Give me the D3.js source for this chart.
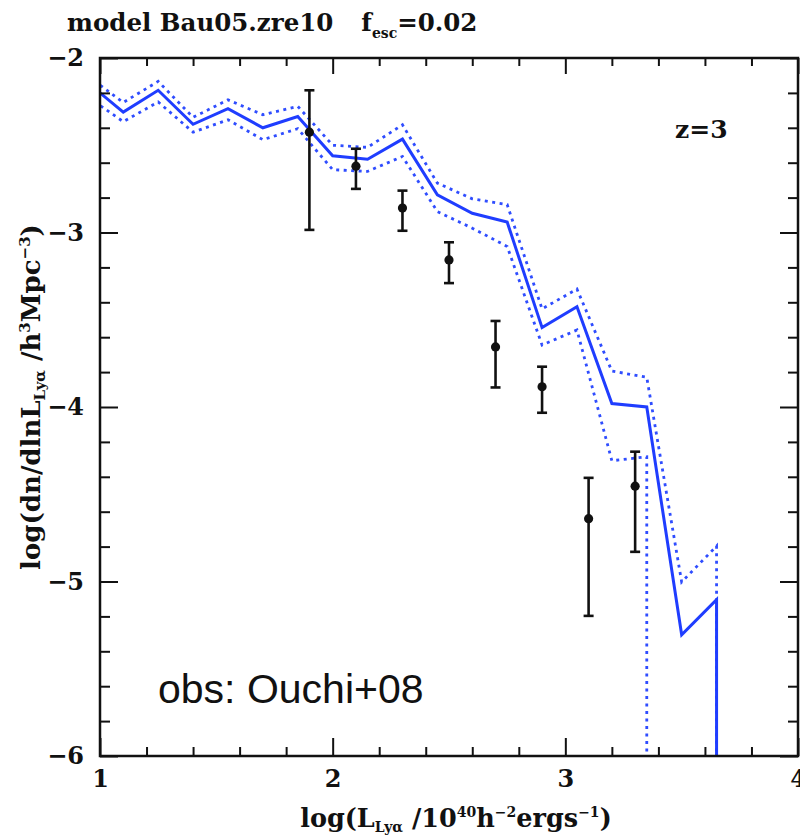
<!DOCTYPE html>
<html>
<head>
<meta charset="utf-8">
<script src="https://cdn.jsdelivr.net/npm/d3@7"></script>
<style>
  html, body { margin: 0; padding: 0; background: #fff; }
  svg { display: block; }
  .serif { font-family: "DejaVu Serif", serif; font-weight: bold; fill: #111; }
</style>
</head>
<body>
<svg id="chart" width="800" height="838"></svg>
<script>
// ---- data ----
const binX = [0.95, 1.10, 1.25, 1.40, 1.55, 1.70, 1.85, 2.00, 2.15, 2.30, 2.45, 2.60, 2.75, 2.90, 3.05, 3.20, 3.35, 3.50, 3.65, 3.80];
const modelMid   = [-2.145, -2.31, -2.185, -2.38, -2.29, -2.40, -2.335, -2.56, -2.58, -2.465, -2.784, -2.89, -2.94, -3.545, -3.425, -3.98, -4.00, -5.305, -5.104, -Infinity];
const modelUpper = [-2.105, -2.255, -2.134, -2.34, -2.24, -2.325, -2.277, -2.50, -2.512, -2.383, -2.717, -2.807, -2.84, -3.438, -3.324, -3.794, -3.83, -5.003, -4.797, -Infinity];
const modelLower = [-2.225, -2.365, -2.252, -2.425, -2.354, -2.468, -2.405, -2.64, -2.65, -2.564, -2.88, -2.975, -3.08, -3.645, -3.559, -4.308, -4.285, -Infinity, -Infinity, -Infinity];

const obsX    = [1.9, 2.1, 2.3, 2.5, 2.7, 2.9, 3.1, 3.3];
const obsY    = [-2.425, -2.62, -2.86, -3.157, -3.656, -3.884, -4.64, -4.454];
const obsHigh = [-2.185, -2.52, -2.76, -3.056, -3.507, -3.769, -4.406, -4.256];
const obsLow  = [-2.985, -2.75, -2.99, -3.29, -3.888, -4.033, -5.197, -4.83];

const xTicks = [1, 2, 3, 4];
const yTicks = [-2, -3, -4, -5, -6];
const xMinor = [1.2, 1.4, 1.6, 1.8, 2.2, 2.4, 2.6, 2.8, 3.2, 3.4, 3.6, 3.8];
const yMinor = [-2.2, -2.4, -2.6, -2.8, -3.2, -3.4, -3.6, -3.8, -4.2, -4.4, -4.6, -4.8, -5.2, -5.4, -5.6, -5.8];

// ---- layout ----
const L = 100, R = 798, T = 58, B = 756;
const svg = d3.select("#chart");
const x = d3.scaleLinear().domain([1, 4]).range([L, R]);
const y = d3.scaleLinear().domain([-6, -2]).range([B, T]).clamp(true);

svg.append("defs").append("clipPath").attr("id", "plotclip")
  .append("rect").attr("x", L).attr("y", T).attr("width", R - L).attr("height", B - T);

const plot = svg.append("g").attr("clip-path", "url(#plotclip)");

// build path points; -Infinity drops vertically from the previous finite point
function pathPoints(xs, ys) {
  const pts = [];
  for (let i = 0; i < xs.length; i++) {
    if (ys[i] === -Infinity) {
      if (pts.length) pts.push([pts[pts.length - 1][0], y(ys[i]) + 5]);
      break;
    }
    pts.push([x(xs[i]), y(ys[i])]);
  }
  return pts;
}
const line = d3.line();

const blue = "#1f3dff";
const dotBlue = "#2f4dff";
plot.append("path").attr("d", line(pathPoints(binX, modelUpper)))
  .attr("fill", "none").attr("stroke", dotBlue).attr("stroke-width", 2.8).attr("stroke-dasharray", "3,4.5");
plot.append("path").attr("d", line(pathPoints(binX, modelLower)))
  .attr("fill", "none").attr("stroke", dotBlue).attr("stroke-width", 2.8).attr("stroke-dasharray", "3,4.5");
plot.append("path").attr("d", line(pathPoints(binX, modelMid)))
  .attr("fill", "none").attr("stroke", blue).attr("stroke-width", 3);

// observations with error bars
const obs = obsX.map((v, i) => ({x: v, y: obsY[i], hi: obsHigh[i], lo: obsLow[i]}));
const eb = svg.append("g").attr("stroke", "#111").attr("stroke-width", 2.6);
eb.selectAll("line.v").data(obs).join("line").attr("class", "v")
  .attr("x1", d => x(d.x)).attr("x2", d => x(d.x)).attr("y1", d => y(d.hi)).attr("y2", d => y(d.lo));
eb.selectAll("line.ct").data(obs).join("line").attr("class", "ct")
  .attr("x1", d => x(d.x) - 5).attr("x2", d => x(d.x) + 5).attr("y1", d => y(d.hi)).attr("y2", d => y(d.hi));
eb.selectAll("line.cb").data(obs).join("line").attr("class", "cb")
  .attr("x1", d => x(d.x) - 5).attr("x2", d => x(d.x) + 5).attr("y1", d => y(d.lo)).attr("y2", d => y(d.lo));
svg.append("g").selectAll("circle").data(obs).join("circle")
  .attr("cx", d => x(d.x)).attr("cy", d => y(d.y)).attr("r", 4.6).attr("fill", "#111");

// ---- axes ----
function styleAxis(g) {
  g.select(".domain").remove();
  g.selectAll(".tick line").attr("stroke", "#111").attr("stroke-width", 2);
  g.selectAll("text").attr("class", "serif").attr("font-size", 24).attr("fill", "#111");
}
const fmt = d3.format("d");
svg.append("g").attr("transform", `translate(0,${B})`)
  .call(d3.axisBottom(x).tickValues(xTicks).tickSize(-18).tickPadding(14).tickFormat(fmt)).call(styleAxis);
svg.append("g").attr("transform", `translate(0,${B})`)
  .call(d3.axisBottom(x).tickValues(xMinor).tickSize(-9).tickFormat("")).call(styleAxis);
svg.append("g").attr("transform", `translate(0,${T})`)
  .call(d3.axisTop(x).tickValues(xTicks).tickSize(-16).tickFormat("")).call(styleAxis);
svg.append("g").attr("transform", `translate(0,${T})`)
  .call(d3.axisTop(x).tickValues(xMinor).tickSize(-8).tickFormat("")).call(styleAxis);
svg.append("g").attr("transform", `translate(${L},0)`)
  .call(d3.axisLeft(y).tickValues(yTicks).tickSize(-18).tickPadding(16).tickFormat(fmt)).call(styleAxis);
svg.append("g").attr("transform", `translate(${L},0)`)
  .call(d3.axisLeft(y).tickValues(yMinor).tickSize(-10).tickFormat("")).call(styleAxis);
svg.append("g").attr("transform", `translate(${R},0)`)
  .call(d3.axisRight(y).tickValues(yTicks).tickSize(-18).tickFormat("")).call(styleAxis);
svg.append("g").attr("transform", `translate(${R},0)`)
  .call(d3.axisRight(y).tickValues(yMinor).tickSize(-10).tickFormat("")).call(styleAxis);

// frame
svg.append("rect").attr("x", L).attr("y", T).attr("width", R - L).attr("height", B - T)
  .attr("fill", "none").attr("stroke", "#111").attr("stroke-width", 2.5);

// ---- texts ----
const title = svg.append("text").attr("class", "serif").attr("x", 67).attr("y", 31).attr("font-size", 24.5);
title.append("tspan").text("model Bau05.zre10");
title.append("tspan").attr("dx", 28).text("f");
title.append("tspan").attr("font-size", 14).attr("dy", 7).text("esc");
title.append("tspan").attr("dy", -7).text("=0.02");

svg.append("text").attr("class", "serif").attr("x", 675).attr("y", 138).attr("font-size", 25).text("z=3");

svg.append("text").attr("x", 158).attr("y", 703)
  .attr("font-family", "Liberation Sans, Arial, sans-serif").attr("font-size", 41).attr("fill", "#111")
  .text("obs: Ouchi+08");

const xl = svg.append("text").attr("class", "serif").attr("x", 456).attr("y", 827)
  .attr("text-anchor", "middle").attr("font-size", 25.5);
xl.append("tspan").text("log(L");
xl.append("tspan").attr("font-size", 14).attr("dy", 5).text("Lyα");
xl.append("tspan").attr("dy", -5).text(" /10");
xl.append("tspan").attr("font-size", 14).attr("dy", -10).text("40");
xl.append("tspan").attr("dy", 10).text("h");
xl.append("tspan").attr("font-size", 14).attr("dy", -10).text("−2");
xl.append("tspan").attr("dy", 10).text("ergs");
xl.append("tspan").attr("font-size", 14).attr("dy", -10).text("−1");
xl.append("tspan").attr("dy", 10).text(")");

const yl = svg.append("text").attr("class", "serif")
  .attr("transform", "translate(40,397) rotate(-90)")
  .attr("text-anchor", "middle").attr("font-size", 26);
yl.append("tspan").text("log(dn/dlnL");
yl.append("tspan").attr("font-size", 15).attr("dy", 5).text("Lyα");
yl.append("tspan").attr("dy", -5).text(" /h");
yl.append("tspan").attr("font-size", 15).attr("dy", -10).text("3");
yl.append("tspan").attr("dy", 10).text("Mpc");
yl.append("tspan").attr("font-size", 15).attr("dy", -10).text("−3");
yl.append("tspan").attr("dy", 10).text(")");
</script>
</body>
</html>
